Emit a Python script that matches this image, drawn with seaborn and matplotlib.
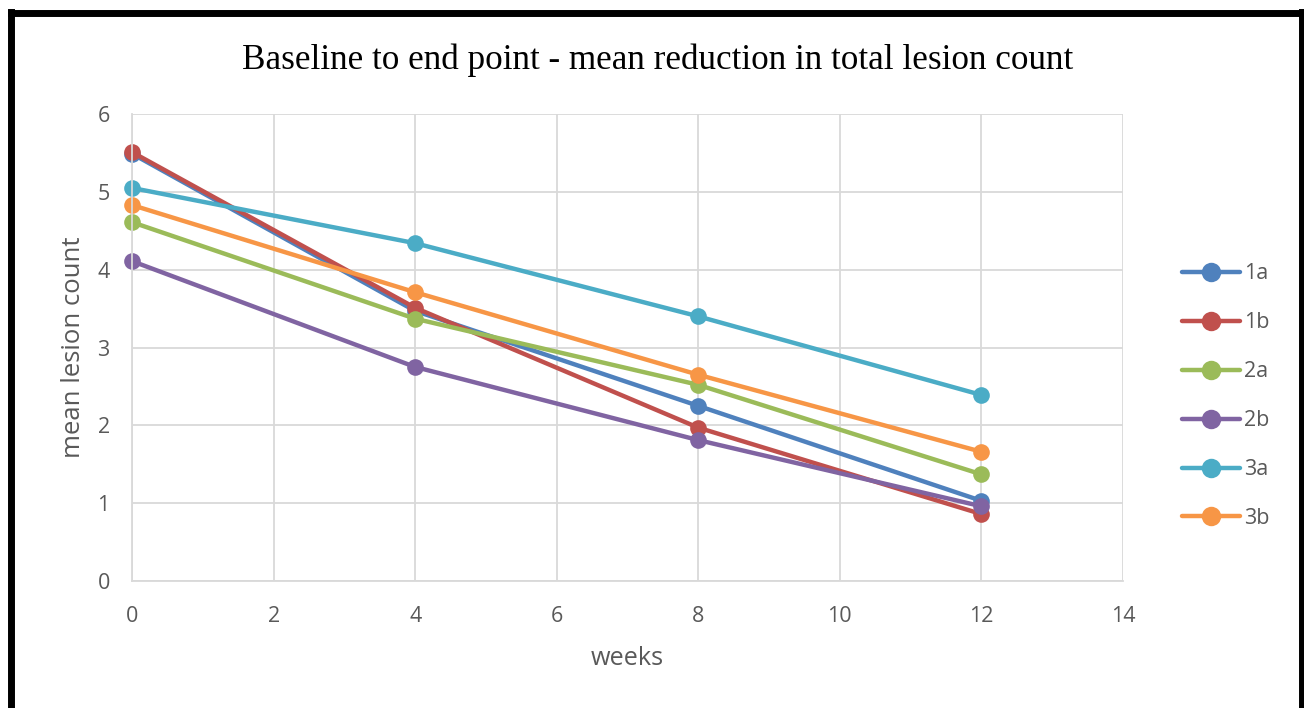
import matplotlib
matplotlib.use("Agg")
import matplotlib.pyplot as plt
import seaborn as sns
import pandas as pd
from matplotlib.lines import Line2D

weeks = [0, 4, 8, 12]
groups = ["1a", "1b", "2a", "2b", "3a", "3b"]
v_1a = [5.49, 3.47, 2.25, 1.03]
v_1b = [5.51, 3.51, 1.97, 0.86]
v_2a = [4.61, 3.37, 2.52, 1.37]
v_2b = [4.11, 2.75, 1.81, 0.96]
v_3a = [5.05, 4.34, 3.40, 2.39]
v_3b = [4.83, 3.71, 2.65, 1.66]
colors = ["#4F81BD", "#C0504D", "#9BBB59", "#8064A2", "#4BACC6", "#F79646"]

series = [v_1a, v_1b, v_2a, v_2b, v_3a, v_3b]
rows = []
for g, vals in zip(groups, series):
    for w, v in zip(weeks, vals):
        rows.append({"weeks": w, "value": v, "group": g})
df = pd.DataFrame(rows)

sns.set_style("white")
plt.rcParams['font.family'] = ['Open Sans', 'DejaVu Sans']

fig = plt.figure(figsize=(13.04, 7.08), dpi=100)
ax = fig.add_axes([132/1304, 1-581/708, (1123-132)/1304, (581-114)/708])

sns.lineplot(data=df, x="weeks", y="value", hue="group", hue_order=groups,
             palette=colors, marker="o", markersize=12, linewidth=3.2,
             markeredgewidth=0, ax=ax, legend=True)
for ln in ax.get_lines():
    ln.set_clip_on(False)

grid_c = "#D9D9D9"
txt_c = "#595959"
ax.set_xlim(0, 14)
ax.set_ylim(0, 6)
ax.set_xticks(range(0, 15, 2))
ax.set_yticks(range(0, 7))
ax.grid(True, color=grid_c, linewidth=1.3)
ax.set_axisbelow(True)
for s in ["top", "right"]:
    ax.spines[s].set_visible(False)
for s in ["left", "bottom"]:
    ax.spines[s].set_color(grid_c)
    ax.spines[s].set_linewidth(1.3)
ax.tick_params(axis="both", colors=grid_c, length=5, width=1.3, direction="out",
               labelcolor=txt_c, labelsize=15.5)
ax.tick_params(axis="x", pad=13)
ax.tick_params(axis="y", pad=11)
ax.set_xlabel("weeks", fontsize=18.2, color=txt_c, labelpad=14)
ax.set_ylabel("mean lesion count", fontsize=18.5, color=txt_c, labelpad=8)

fig.text(658/1304, 1-60/708, "Baseline to end point - mean reduction in total lesion count",
         ha="center", va="center", fontsize=25.3, family="Liberation Serif", color="black")

handles, labels = ax.get_legend_handles_labels()
for h in handles:
    h.set_markersize(14)
leg = ax.legend(handles, labels, loc="center left", bbox_to_anchor=(1.04, 0.396),
                frameon=False, fontsize=15.5, labelspacing=1.3, handlelength=2.7,
                handletextpad=0.2, labelcolor=txt_c)

# outer frame
lw = 5
fig.add_artist(Line2D([11/1304, 11/1304], [0, 1-12/708], color="black", lw=lw,
                      transform=fig.transFigure, solid_capstyle="projecting"))
fig.add_artist(Line2D([11/1304, 1302/1304], [1-12.5/708, 1-12.5/708], color="black", lw=lw,
                      transform=fig.transFigure, solid_capstyle="projecting"))
fig.add_artist(Line2D([1302/1304, 1302/1304], [0, 1-12/708], color="black", lw=lw,
                      transform=fig.transFigure, solid_capstyle="projecting"))

fig.savefig("out.png", dpi=100, facecolor="white")
